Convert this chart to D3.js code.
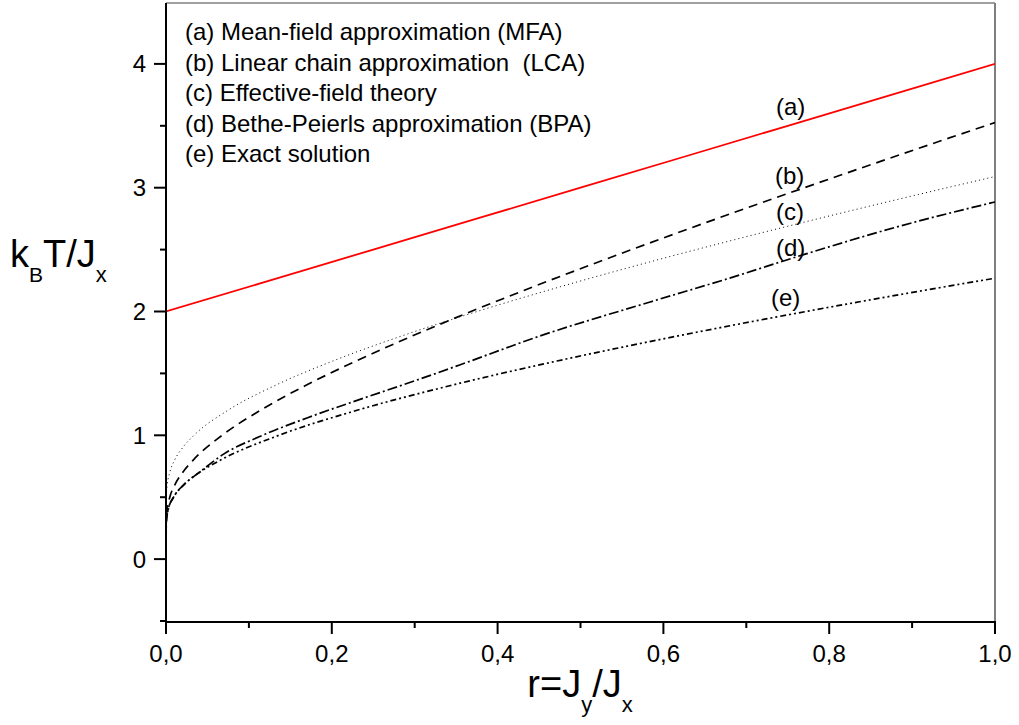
<!DOCTYPE html>
<html>
<head>
<meta charset="utf-8">
<script src="https://cdn.jsdelivr.net/npm/d3@7"></script>
<style>
  html, body { margin: 0; padding: 0; background: #fff; }
  svg { display: block; font-family: "Liberation Sans", Arial, sans-serif; }
</style>
</head>
<body>
<svg id="chart" width="1019" height="725"></svg>
<script>
// Critical temperature k_B T_c / J_x versus anisotropy r = J_y / J_x

// (a) Mean-field approximation
const mfaR = [0, 0.25, 0.5, 0.75, 1.0];
const mfaT = [2.0, 2.5, 3.0, 3.5, 4.0];

// (b) Linear chain approximation
const lcaR = [0, 0.0000045, 0.000191, 0.001348, 0.004579, 0.010701, 0.0201, 0.032834, 0.067668, 0.113326,
              0.167756, 0.229204, 0.296274, 0.367879, 0.443179, 0.521518, 0.60238, 0.685359, 0.770126,
              0.856418, 0.94402, 1.0];
const lcaT = [0, 0.2, 0.3, 0.4, 0.5, 0.6, 0.7, 0.8, 1.0, 1.2,
              1.4, 1.6, 1.8, 2.0, 2.2, 2.4, 2.6, 2.8, 3.0,
              3.2, 3.4, 3.526];

// (c) Effective-field theory
const eftR = [0, 0.000036, 0.000335, 0.00152, 0.004542, 0.010441, 0.020027, 0.033786, 0.074231, 0.130772,
              0.201176, 0.283258, 0.375203, 0.47558, 0.583297, 0.697454, 0.817302, 0.942315, 1.0];
const eftT = [0, 0.4, 0.5, 0.6, 0.7, 0.8, 0.9, 1.0, 1.2, 1.4,
              1.6, 1.8, 2.0, 2.2, 2.4, 2.6, 2.8, 3.0, 3.09];

// (d) Bethe-Peierls approximation
const bpaR = [0, 0.000382, 0.002695, 0.009159, 0.021413, 0.04, 0.07, 0.113, 0.17, 0.234,
              0.3, 0.355, 0.45, 0.584, 0.68, 0.768, 0.88, 1.0];
const bpaT = [0, 0.3, 0.4, 0.5, 0.6, 0.70, 0.85, 0.99, 1.14, 1.29,
              1.44, 1.57, 1.80, 2.077, 2.27, 2.457, 2.68, 2.885];

// (e) Exact solution
const exactR = [0, 0.0000091, 0.0000839, 0.000382, 0.002695, 0.009159, 0.021413, 0.040247, 0.065816, 0.136172,
                0.229405, 0.342166, 0.471606, 0.615461, 0.771937, 0.854448, 0.939606, 1.0];
const exactT = [0, 0.2, 0.25, 0.3, 0.4, 0.5, 0.6, 0.7, 0.8, 1.0,
                1.2, 1.4, 1.6, 1.8, 2.0, 2.1, 2.2, 2.269];

const xTicks = [0, 0.2, 0.4, 0.6, 0.8, 1.0];
const xTickLabels = ["0,0", "0,2", "0,4", "0,6", "0,8", "1,0"];
const xMinorTicks = [0.1, 0.3, 0.5, 0.7, 0.9];
const yTicks = [0, 1, 2, 3, 4];
const yTickLabels = ["0", "1", "2", "3", "4"];
const yMinorTicks = [-0.5, 0.5, 1.5, 2.5, 3.5];

const legendLines = [
  "(a) Mean-field approximation (MFA)",
  "(b) Linear chain approximation  (LCA)",
  "(c) Effective-field theory",
  "(d) Bethe-Peierls approximation (BPA)",
  "(e) Exact solution"
];
const curveTags = ["(a)", "(b)", "(c)", "(d)", "(e)"];

const plotLeft = 166, plotRight = 995, plotTop = 2, plotBottom = 621;
const x = d3.scaleLinear().domain([0, 1]).range([plotLeft, plotRight]);
const y = d3.scaleLinear().domain([-0.5, 4.5]).range([plotBottom, plotTop]);

const svg = d3.select("#chart");

svg.append("defs").append("clipPath").attr("id", "plotClip")
  .append("rect").attr("x", plotLeft).attr("y", plotTop)
  .attr("width", plotRight - plotLeft).attr("height", plotBottom - plotTop);

// frame: grey top and right edges
svg.append("line").attr("x1", plotLeft).attr("x2", plotRight).attr("y1", 3).attr("y2", 3)
  .attr("stroke", "#7f7f7f").attr("stroke-width", 1.5);
svg.append("line").attr("x1", plotRight).attr("x2", plotRight).attr("y1", 3).attr("y2", 622)
  .attr("stroke", "#7f7f7f").attr("stroke-width", 2);

const series = [
  { r: mfaR, t: mfaT, color: "#ff0000", width: 1.8, dash: null },
  { r: lcaR, t: lcaT, color: "#000", width: 1.7, dash: "9,6" },
  { r: eftR, t: eftT, color: "#000", width: 1.0, dash: "1,3.2" },
  { r: bpaR, t: bpaT, color: "#000", width: 1.7, dash: "10,3,2,3" },
  { r: exactR, t: exactT, color: "#000", width: 1.7, dash: "6,3,2,3,2,3" }
];

const line = d3.line()
  .x(d => x(d[0]))
  .y(d => y(d[1]))
  .curve(d3.curveMonotoneX);

const curves = svg.append("g").attr("clip-path", "url(#plotClip)");
series.forEach(s => {
  const pts = s.r.map((rv, i) => [rv, s.t[i]]);
  const p = curves.append("path")
    .attr("d", line(pts))
    .attr("fill", "none")
    .attr("stroke", s.color)
    .attr("stroke-width", s.width);
  if (s.dash) p.attr("stroke-dasharray", s.dash);
});

// bottom axis
const xAxis = svg.append("g").attr("transform", "translate(0,622)");
xAxis.append("line").attr("x1", plotLeft - 1).attr("x2", plotRight + 1).attr("y1", 0).attr("y2", 0)
  .attr("stroke", "#000").attr("stroke-width", 2);
xAxis.selectAll(".xmaj").data(xTicks).enter().append("line")
  .attr("x1", d => x(d)).attr("x2", d => x(d)).attr("y1", 0).attr("y2", 12)
  .attr("stroke", "#000").attr("stroke-width", 2);
xAxis.selectAll(".xmin").data(xMinorTicks).enter().append("line")
  .attr("x1", d => x(d)).attr("x2", d => x(d)).attr("y1", 0).attr("y2", 6)
  .attr("stroke", "#000").attr("stroke-width", 2);
xAxis.selectAll(".xlab").data(xTicks).enter().append("text")
  .attr("x", d => x(d)).attr("y", 40)
  .attr("text-anchor", "middle").attr("font-size", 24).attr("fill", "#000")
  .text((d, i) => xTickLabels[i]);

// left axis
const yAxis = svg.append("g").attr("transform", "translate(166,0)");
yAxis.append("line").attr("x1", 0).attr("x2", 0).attr("y1", 3).attr("y2", 623)
  .attr("stroke", "#000").attr("stroke-width", 2);
yAxis.selectAll(".ymaj").data(yTicks).enter().append("line")
  .attr("x1", -12).attr("x2", 0).attr("y1", d => y(d)).attr("y2", d => y(d))
  .attr("stroke", "#000").attr("stroke-width", 2);
yAxis.selectAll(".ymin").data(yMinorTicks).enter().append("line")
  .attr("x1", -6).attr("x2", 0).attr("y1", d => y(d)).attr("y2", d => y(d))
  .attr("stroke", "#000").attr("stroke-width", 2);
yAxis.selectAll(".ylab").data(yTicks).enter().append("text")
  .attr("x", -20).attr("y", d => y(d) + 8.5)
  .attr("text-anchor", "end").attr("font-size", 24).attr("fill", "#000")
  .text((d, i) => yTickLabels[i]);

// axis titles
const yTitle = svg.append("text").attr("x", 10).attr("y", 267).attr("font-size", 38).attr("fill", "#000");
yTitle.append("tspan").text("k");
yTitle.append("tspan").attr("font-size", 21).attr("dy", 15).text("B");
yTitle.append("tspan").attr("dy", -15).text("T/J");
yTitle.append("tspan").attr("font-size", 22).attr("dy", 15).text("x");

const xTitle = svg.append("text").attr("x", 580).attr("y", 697).attr("text-anchor", "middle")
  .attr("font-size", 38).attr("fill", "#000");
xTitle.append("tspan").text("r=J");
xTitle.append("tspan").attr("font-size", 22).attr("dy", 15).text("y");
xTitle.append("tspan").attr("dy", -15).text("/J");
xTitle.append("tspan").attr("font-size", 22).attr("dy", 15).text("x");

// legend block
svg.append("g").selectAll("text").data(legendLines).enter().append("text")
  .attr("x", 185).attr("y", (d, i) => 40 + i * 30.5)
  .attr("font-size", 24).attr("fill", "#000")
  .attr("xml:space", "preserve").style("white-space", "pre")
  .text(d => d);

// curve tags
const tagPos = [[776, 115], [775, 184], [776, 220], [776, 256], [771, 306]];
svg.append("g").selectAll("text").data(curveTags).enter().append("text")
  .attr("x", (d, i) => tagPos[i][0]).attr("y", (d, i) => tagPos[i][1])
  .attr("font-size", 24).attr("fill", "#000")
  .text(d => d);
</script>
</body>
</html>
